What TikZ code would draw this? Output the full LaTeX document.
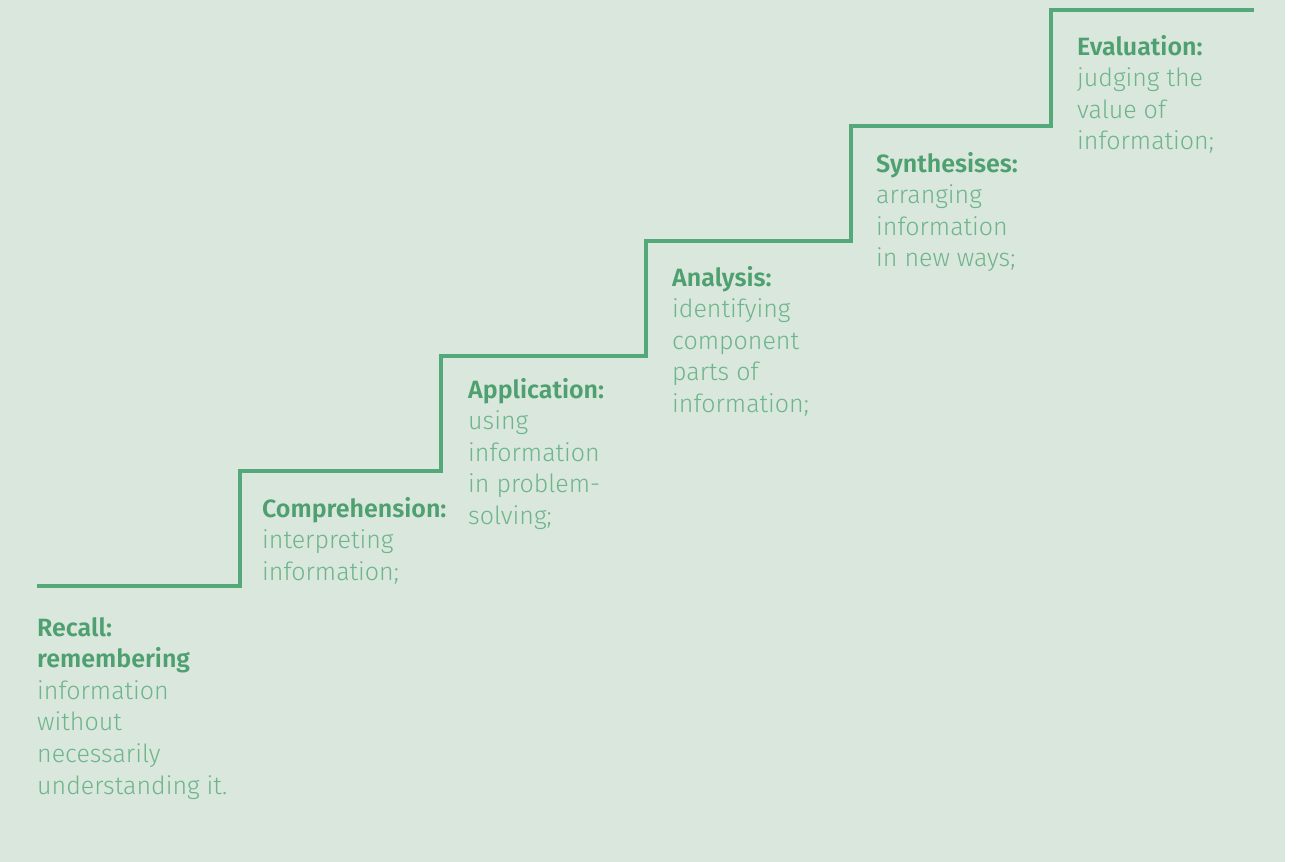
\documentclass[tikz,border=0pt]{standalone}
\usepackage{fontspec}
\setmainfont{Fira Sans}[UprightFont=* Light, BoldFont=* SemiBold]
\definecolor{bg}{HTML}{DAE7DD}
\definecolor{stair}{HTML}{55A87A}
\definecolor{head}{HTML}{4FA070}
\definecolor{body}{HTML}{6DB58B}
\begin{document}
\begin{tikzpicture}[x=1pt,y=-1pt,
  lbl/.style={anchor=base west,inner sep=0pt,align=left,text=body,
    font=\fontsize{25}{31.6}\selectfont},
  hd/.style={text=head}]
\useasboundingbox (0,0) rectangle (1299,862);
\fill[white] (0,0) rectangle (1299,862);
\fill[bg] (0,0) rectangle (1285,862);
\draw[stair,line width=3.5pt,line cap=butt,line join=miter]
  (37,586) -| (240,471) -| (441,356) -| (646,241) -| (851,126) -| (1051,10) -- (1254,10);
% anchors at the baseline of each block's last line
\node[lbl] (recall) at (37,794) {\textcolor{head}{\bfseries Recall:}\\\textcolor{head}{\bfseries remembering}\\information\\without\\necessarily\\understanding it.};
\node[lbl] (comp) at (262,580.2) {\textcolor{head}{\bfseries Comprehension:}\\interpreting\\information;};
\node[lbl] (appl) at (468,524.4) {\textcolor{head}{\bfseries Application:}\\using\\information\\in problem-\\solving;};
\node[lbl] (anal) at (672,412.4) {\textcolor{head}{\bfseries Analysis:}\\identifying\\component\\parts of\\information;};
\node[lbl] (synth) at (876,266.8) {\textcolor{head}{\bfseries Synthesises:}\\arranging\\information\\in new ways;};
\node[lbl] (eval) at (1077,149.8) {\textcolor{head}{\bfseries Evaluation:}\\judging the\\value of\\information;};
\end{tikzpicture}
\end{document}
